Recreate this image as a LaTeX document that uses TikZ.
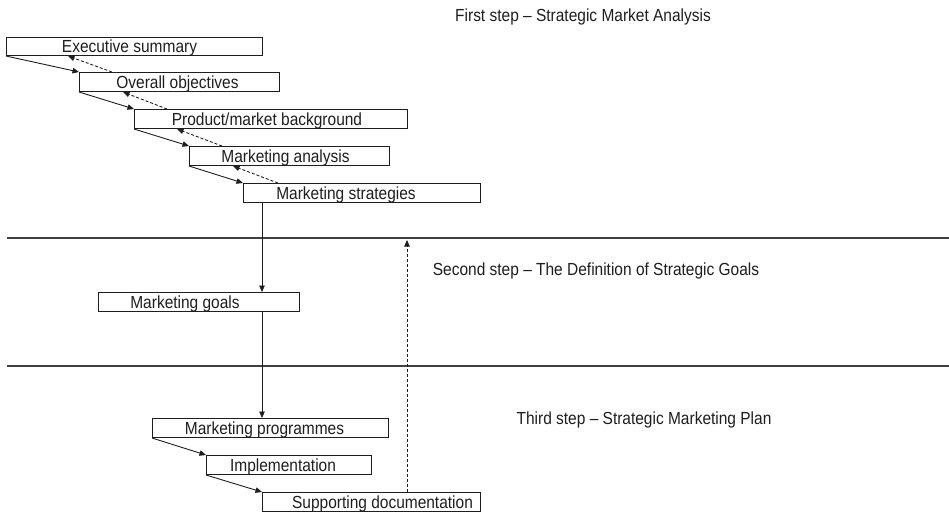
\documentclass[tikz,border=0pt]{standalone}
\usepackage{fontspec}
\setmainfont{Liberation Sans}[FakeStretch=0.885]
\usetikzlibrary{arrows.meta,calc}
\definecolor{ink}{RGB}{30,30,30}
\begin{document}
\begin{tikzpicture}[x=1pt,y=-1pt,
  font=\fontsize{17.5}{20}\selectfont,
  box/.style={draw=ink, line width=1pt, inner sep=0pt, anchor=north west, minimum height=19pt},
  lbl/.style={anchor=base, text=ink, inner sep=0pt},
  arr/.style={draw=ink, line width=0.9pt, -{Triangle[length=6.5pt,width=5.5pt]}},
  darr/.style={arr, dash pattern=on 3pt off 2pt},
  sep/.style={draw=ink!85, line width=1.1pt}]
\useasboundingbox (0,0) rectangle (949,515);
% boxes
\node[box,minimum width=256pt,minimum height=18pt] (es) at (6,37) {};
\node[box,minimum width=200pt] (oo) at (79,72) {};
\node[box,minimum width=273pt] (pm) at (134,109) {};
\node[box,minimum width=200pt] (ma) at (189,146) {};
\node[box,minimum width=237pt] (ms) at (243,183) {};
\node[box,minimum width=201pt] (mg) at (98,292) {};
\node[box,minimum width=236pt] (mp) at (152,418) {};
\node[box,minimum width=165pt] (im) at (206,455) {};
\node[box,minimum width=218pt] (sd) at (262,492) {};
% labels
\node[lbl] (es-t) at ($(es.south)+(-5,-4)$) {Executive summary};
\node[lbl] (oo-t) at ($(oo.south)+(-2,-4)$) {Overall objectives};
\node[lbl] (pm-t) at ($(pm.south)+(-4,-4)$) {Product/market background};
\node[lbl] (ma-t) at ($(ma.south)+(-4,-4)$) {Marketing analysis};
\node[lbl] (ms-t) at ($(ms.south)+(-16,-4)$) {Marketing strategies};
\node[lbl] (mg-t) at ($(mg.south)+(-14,-4)$) {Marketing goals};
\node[lbl] (mp-t) at ($(mp.south)+(-6,-4)$) {Marketing programmes};
\node[lbl] (im-t) at ($(im.south)+(-6,-4)$) {Implementation};
\node[lbl] (sd-t) at ($(sd.south)+(11,-4)$) {Supporting documentation};
% headings
\node[lbl] (h1) at (583,21) {First step – Strategic Market Analysis};
\node[lbl] (h2) at (596,275) {Second step – The Definition of Strategic Goals};
\node[lbl] (h3) at (644,424) {Third step – Strategic Marketing Plan};
% separators
\coordinate (l1a) at (7,238); \coordinate (l1b) at (949,238);
\coordinate (l2a) at (7,366); \coordinate (l2b) at (949,366);
\draw[sep] (l1a) -- (l1b);
\draw[sep] (l2a) -- (l2b);
% cascade connectors
\draw[arr] (es.south west) -- (oo.north west);
\draw[darr] ($(oo.north west)+(33,0)$) -- ($(es.south west)+(62,0)$);
\draw[arr] (oo.south west) -- (pm.north west);
\draw[darr] ($(pm.north west)+(33,0)$) -- ($(oo.south west)+(44,0)$);
\draw[arr] (pm.south west) -- (ma.north west);
\draw[darr] ($(ma.north west)+(33,0)$) -- ($(pm.south west)+(43,0)$);
\draw[arr] (ma.south west) -- (ms.north west);
\draw[darr] ($(ms.north west)+(35,0)$) -- ($(ma.south west)+(44,0)$);
% vertical flow
\coordinate (v1) at ($(ms.south west)+(19,0)$);
\draw[arr] (v1) -- (v1 |- mg.north);
\draw[arr] (v1 |- mg.south) -- (v1 |- mp.north);
\draw[arr] (mp.south west) -- (im.north west);
\draw[arr] (im.south west) -- (sd.north west);
% feedback
\coordinate (v2) at ($(sd.north west)+(145,0)$);
\draw[darr] (v2) -- ($(v2 |- l1a)+(0,2)$);
\end{tikzpicture}
\end{document}
